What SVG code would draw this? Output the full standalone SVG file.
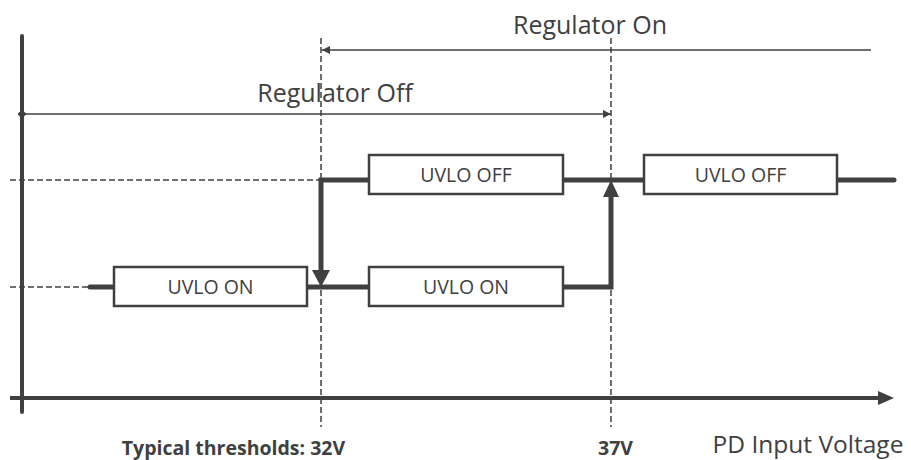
<svg xmlns="http://www.w3.org/2000/svg" width="911" height="460" viewBox="0 0 911 460">
<style>
.t{font-family:"Open Sans","Liberation Sans",sans-serif;fill:#404040}
.lbl{font-size:19.5px;text-anchor:middle}
.big{font-size:25px;text-anchor:middle}
.box{fill:#fff;stroke:#404040;stroke-width:2.5}
.thick{stroke:#404040;stroke-width:5;fill:none;stroke-linecap:round}
.thin{stroke:#404040;stroke-width:1.5;fill:none}
.dash{stroke:#404040;stroke-width:1.5;fill:none;stroke-dasharray:6 3}
.axis{stroke:#404040;stroke-width:4;fill:none}
</style>
<defs>
<marker id="ah" viewBox="0 0 10 10" refX="10" refY="5" markerWidth="10" markerHeight="8" markerUnits="userSpaceOnUse" orient="auto-start-reverse">
<path d="M0,0 L10,5 L0,10 Z" fill="#404040"/>
</marker>
<marker id="dia" viewBox="0 0 10 10" refX="5" refY="5" markerWidth="9" markerHeight="9" markerUnits="userSpaceOnUse">
<path d="M5,0 L10,5 L5,10 L0,5 Z" fill="#404040"/>
</marker>
</defs>
<rect width="911" height="460" fill="#fff"/>
<g id="axes">
<line class="axis" x1="22" y1="36" x2="22" y2="412" stroke-linecap="round"/>
<line class="axis" x1="10" y1="398" x2="880" y2="398"/>
<path d="M878,391 L894,398 L878,405 Z" fill="#404040"/>
</g>
<g id="guides">
<line class="dash" x1="321" y1="38" x2="321" y2="427"/>
<line class="dash" x1="611" y1="38" x2="611" y2="427"/>
<line class="dash" x1="10" y1="180" x2="321" y2="180"/>
<line class="dash" x1="10" y1="287" x2="90" y2="287"/>
</g>
<g id="regions">
<line class="thin" x1="871" y1="50" x2="322" y2="50" marker-end="url(#ah)"/>
<text class="t big" x="590" y="34">Regulator On</text>
<line class="thin" x1="22" y1="114" x2="611" y2="114" marker-start="url(#dia)" marker-end="url(#ah)"/>
<text class="t big" x="335" y="102">Regulator Off</text>
</g>
<g id="connectors">
<path class="thick" d="M90,287 H114 M307,287 H369 M563,287 H611 V197"/>
<path d="M603,197 L611,180 L619,197 Z" fill="#404040"/>
<path class="thick" d="M369,180 H321 V270"/>
<path d="M312,270 L321,287 L330,270 Z" fill="#404040"/>
<path class="thick" d="M563,180 H644 M837,180 H894"/>
</g>
<g id="uvlo-on-1">
<rect class="box" x="114" y="267" width="193" height="39"/>
<text class="t lbl" x="210.5" y="294">UVLO ON</text>
</g>
<g id="uvlo-on-2">
<rect class="box" x="369" y="267" width="194" height="39"/>
<text class="t lbl" x="466" y="294">UVLO ON</text>
</g>
<g id="uvlo-off-1">
<rect class="box" x="369" y="155" width="194" height="39"/>
<text class="t lbl" x="466" y="182">UVLO OFF</text>
</g>
<g id="uvlo-off-2">
<rect class="box" x="644" y="155" width="193" height="39"/>
<text class="t lbl" x="740.5" y="182">UVLO OFF</text>
</g>
<g id="labels">
<text class="t" x="233.5" y="455" font-size="19.5" font-weight="bold" text-anchor="middle">Typical thresholds: 32V</text>
<text class="t" x="615.5" y="455" font-size="19.5" font-weight="bold" text-anchor="middle">37V</text>
<text class="t" x="808" y="453" font-size="24.5" text-anchor="middle">PD Input Voltage</text>
</g>
</svg>
